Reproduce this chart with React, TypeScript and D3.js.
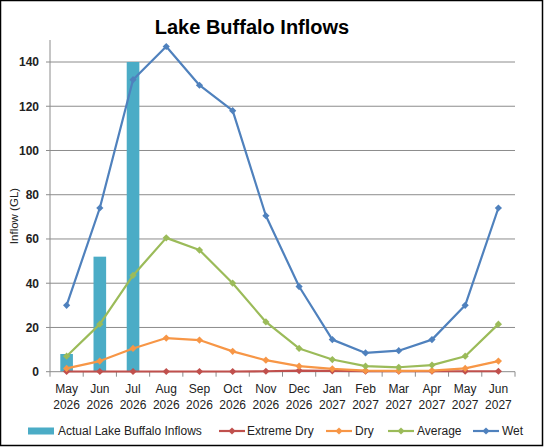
import React from "react";
import * as d3 from "d3";

const categories = ["May 2026","Jun 2026","Jul 2026","Aug 2026","Sep 2026","Oct 2026","Nov 2026","Dec 2026","Jan 2027","Feb 2027","Mar 2027","Apr 2027","May 2027","Jun 2027"];
const actual = [8, 52, 140, null, null, null, null, null, null, null, null, null, null, null];
const extremeDry = [0.1, 0.1, 0.1, 0.1, 0.1, 0.1, 0.2, 0.5, 0.4, 0.2, 0.2, 0.2, 0.2, 0.2];
const dry = [1.5, 4.8, 10.5, 15.2, 14.3, 9.2, 5.2, 2.5, 1.3, 0.5, 0.4, 0.5, 1.5, 4.8];
const average = [7, 21.5, 43.5, 60.5, 55, 40, 22.5, 10.5, 5.5, 2.5, 2, 3, 7, 21.5];
const wet = [30, 74, 132, 147, 129.5, 118, 70.5, 38.5, 14.5, 8.5, 9.5, 14.5, 30, 74];
const yTicks = [0, 20, 40, 60, 80, 100, 120, 140];

const series = [
  { name: "Extreme Dry", values: extremeDry, color: "#c0504d" },
  { name: "Dry", values: dry, color: "#f79646" },
  { name: "Average", values: average, color: "#9bbb59" },
  { name: "Wet", values: wet, color: "#4f81bd" },
];

const font = "'Liberation Sans', Arial, sans-serif";

export default function App() {
  const W = 545, H = 448;
  const left = 50, right = 515, top = 40, bottom = 371.7;
  const x = d3.scaleBand().domain(categories).range([left, right]);
  const y = d3.scaleLinear().domain([0, 140]).range([bottom, 62]);
  const cx = (c: string) => (x(c) as number) + x.bandwidth() / 2;
  const barW = x.bandwidth() * 0.38;
  const line = d3.line<number>().x((_, i) => cx(categories[i])).y((v) => y(v));
  const diamond = (px: number, py: number, r = 3.6) =>
    `M${px},${py - r}L${px + r},${py}L${px},${py + r}L${px - r},${py}Z`;

  const legendItems = [
    { x: 219, tx: 247, ...series[0] },
    { x: 326, tx: 355, ...series[1] },
    { x: 388, tx: 417, ...series[2] },
    { x: 473, tx: 502, ...series[3] },
  ];
  const ly = 431;

  return (
    <svg width={W} height={H} style={{ position: "absolute", left: 0, top: 0 }}>
      <rect x={0.5} y={0.5} width={W - 3} height={H - 3} fill="#fff" stroke="#000" strokeWidth={1.5} />
      <text x={252} y={34} textAnchor="middle" fontFamily={font} fontWeight="bold" fontSize={20} fill="#000">
        Lake Buffalo Inflows
      </text>
      {yTicks.map((t) => (
        <g key={t}>
          {t > 0 && <line x1={left} x2={right} y1={y(t)} y2={y(t)} stroke="#8c8c8c" strokeWidth={1} />}
          <line x1={left - 4} x2={left} y1={y(t)} y2={y(t)} stroke="#8c8c8c" />
          <text x={39} y={y(t) + 4.3} textAnchor="end" fontFamily={font} fontWeight="bold" fontSize={12} fill="#222">
            {t}
          </text>
        </g>
      ))}
      <line x1={left} x2={left} y1={top} y2={bottom} stroke="#8c8c8c" />
      <text transform={`translate(18,216) rotate(-90)`} textAnchor="middle" fontFamily={font} fontSize={11.5} fill="#222">
        Inflow (GL)
      </text>
      {categories.map((c, i) =>
        actual[i] != null ? (
          <rect key={c} x={cx(c) - barW / 2} y={y(actual[i] as number)} width={barW} height={bottom - y(actual[i] as number)} fill="#4bacc6" />
        ) : null
      )}
      <line x1={left} x2={right} y1={bottom} y2={bottom} stroke="#8c8c8c" />
      {d3.range(categories.length + 1).map((i) => {
        const px = left + i * x.bandwidth();
        return <line key={i} x1={px} x2={px} y1={bottom} y2={bottom + 5} stroke="#8c8c8c" />;
      })}
      {categories.map((c) => {
        const [m, yr] = c.split(" ");
        return (
          <text key={c} x={cx(c)} textAnchor="middle" fontFamily={font} fontSize={12} fill="#222">
            <tspan x={cx(c)} y={393}>{m}</tspan>
            <tspan x={cx(c)} y={409}>{yr}</tspan>
          </text>
        );
      })}
      {series.map((s) => (
        <g key={s.name}>
          <path d={line(s.values) as string} fill="none" stroke={s.color} strokeWidth={2.2} strokeLinejoin="round" />
          {s.values.map((v, i) => (
            <path key={i} d={diamond(cx(categories[i]), y(v))} fill={s.color} />
          ))}
        </g>
      ))}
      <rect x={28} y={ly - 3.5} width={26} height={7} fill="#4bacc6" />
      <text x={58} y={ly + 4.3} fontFamily={font} fontSize={12} fill="#222">Actual Lake Buffalo Inflows</text>
      {legendItems.map((it) => (
        <g key={it.name}>
          <line x1={it.x} x2={it.x + 26} y1={ly} y2={ly} stroke={it.color} strokeWidth={2.2} />
          <path d={diamond(it.x + 13, ly)} fill={it.color} />
          <text x={it.tx} y={ly + 4.3} fontFamily={font} fontSize={12} fill="#222">{it.name}</text>
        </g>
      ))}
    </svg>
  );
}
